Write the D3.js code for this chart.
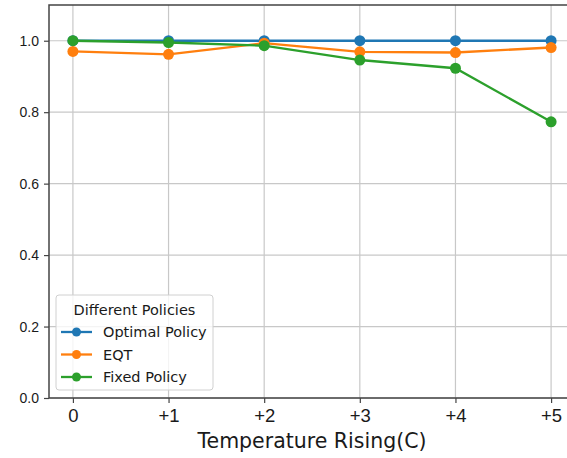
<!DOCTYPE html>
<html>
<head>
<meta charset="utf-8">
<script src="https://cdn.jsdelivr.net/npm/d3@7"></script>
<style>
  body { margin: 0; background: #fff; overflow: hidden; }
  svg { font-family: "DejaVu Sans", sans-serif; display: block; }
</style>
</head>
<body>
<svg id="chart" width="567" height="458"></svg>
<script>
// tick labels along x (temperature rise)
const categories = ['0', '+1', '+2', '+3', '+4', '+5'];

const optimalPolicy = [1.0, 1.0, 1.0, 1.0, 1.0, 1.0];
const eqt = [0.970, 0.962, 0.993, 0.969, 0.967, 0.981];
const fixedPolicy = [1.0, 0.995, 0.986, 0.946, 0.923, 0.773];

const yTicks = [0.0, 0.2, 0.4, 0.6, 0.8, 1.0];

const series = [
    {name: 'Optimal Policy', values: optimalPolicy, color: '#1f77b4'},
    {name: 'EQT', values: eqt, color: '#ff7f0e'},
    {name: 'Fixed Policy', values: fixedPolicy, color: '#2ca02c'}
];

const margin = {left: 49, top: 5, right: 575, bottom: 398};
const svg = d3.select('#chart');

const x = d3.scaleLinear()
    .domain([-0.25, categories.length - 1 + 0.25])
    .range([margin.left, margin.right]);
const y = d3.scaleLinear()
    .domain([0, 1.1])
    .range([margin.bottom, margin.top]);

// grid
const grid = svg.append('g').attr('class', 'grid');
grid.selectAll('line.vx').data(categories).join('line')
    .attr('x1', (d, i) => x(i)).attr('x2', (d, i) => x(i))
    .attr('y1', margin.top).attr('y2', margin.bottom)
    .attr('stroke', '#c8c8c8').attr('stroke-width', 1.2);
grid.selectAll('line.hy').data(yTicks).join('line')
    .attr('x1', margin.left).attr('x2', margin.right)
    .attr('y1', d => y(d)).attr('y2', d => y(d))
    .attr('stroke', '#c8c8c8').attr('stroke-width', 1.2);

// axes
const xAxis = svg.append('g')
    .attr('transform', `translate(0,${margin.bottom})`)
    .call(d3.axisBottom(x).tickValues(d3.range(categories.length))
        .tickFormat(i => categories[i]).tickSize(5).tickPadding(6));
xAxis.selectAll('text').attr('font-size', 18.5).attr('fill', '#1a1a1a');

const yAxis = svg.append('g')
    .attr('transform', `translate(${margin.left},0)`)
    .call(d3.axisLeft(y).tickValues(yTicks).tickFormat(d3.format('.1f'))
        .tickSize(5).tickPadding(5));
yAxis.selectAll('text').attr('font-size', 14).attr('fill', '#1a1a1a');

[xAxis, yAxis].forEach(a => {
    a.select('.domain').remove();
    a.selectAll('line').attr('stroke', '#444').attr('stroke-width', 1.2);
});

// frame
svg.append('rect')
    .attr('x', margin.left).attr('y', margin.top)
    .attr('width', margin.right - margin.left).attr('height', margin.bottom - margin.top)
    .attr('fill', 'none').attr('stroke', '#444').attr('stroke-width', 1.5);

svg.append('text')
    .attr('x', (margin.left + margin.right) / 2).attr('y', 448)
    .attr('text-anchor', 'middle').attr('font-size', 20.5).attr('fill', '#1a1a1a')
    .text('Temperature Rising(C)');

// lines + markers
const line = d3.line().x((d, i) => x(i)).y(d => y(d));
series.forEach(s => {
    svg.append('path').datum(s.values)
        .attr('d', line).attr('fill', 'none')
        .attr('stroke', s.color).attr('stroke-width', 2.3);
    svg.append('g').selectAll('circle').data(s.values).join('circle')
        .attr('cx', (d, i) => x(i)).attr('cy', d => y(d))
        .attr('r', 5.5).attr('fill', s.color);
});

// legend
const lg = svg.append('g').attr('transform', 'translate(56,295)');
lg.append('rect').attr('width', 157).attr('height', 95).attr('rx', 3)
    .attr('fill', 'rgba(255,255,255,0.8)').attr('stroke', '#d0d0d0');
lg.append('text').attr('x', 78.5).attr('y', 19.5)
    .attr('text-anchor', 'middle').attr('font-size', 14.5).attr('fill', '#1a1a1a')
    .text('Different Policies');
series.forEach((s, i) => {
    const yy = 37 + i * 22.5;
    lg.append('line').attr('x1', 5).attr('x2', 36).attr('y1', yy).attr('y2', yy)
        .attr('stroke', s.color).attr('stroke-width', 2.3);
    lg.append('circle').attr('cx', 20.5).attr('cy', yy).attr('r', 4.5).attr('fill', s.color);
    lg.append('text').attr('x', 47).attr('y', yy + 5)
        .attr('font-size', 14.5).attr('fill', '#1a1a1a').text(s.name);
});
</script>
</body>
</html>
